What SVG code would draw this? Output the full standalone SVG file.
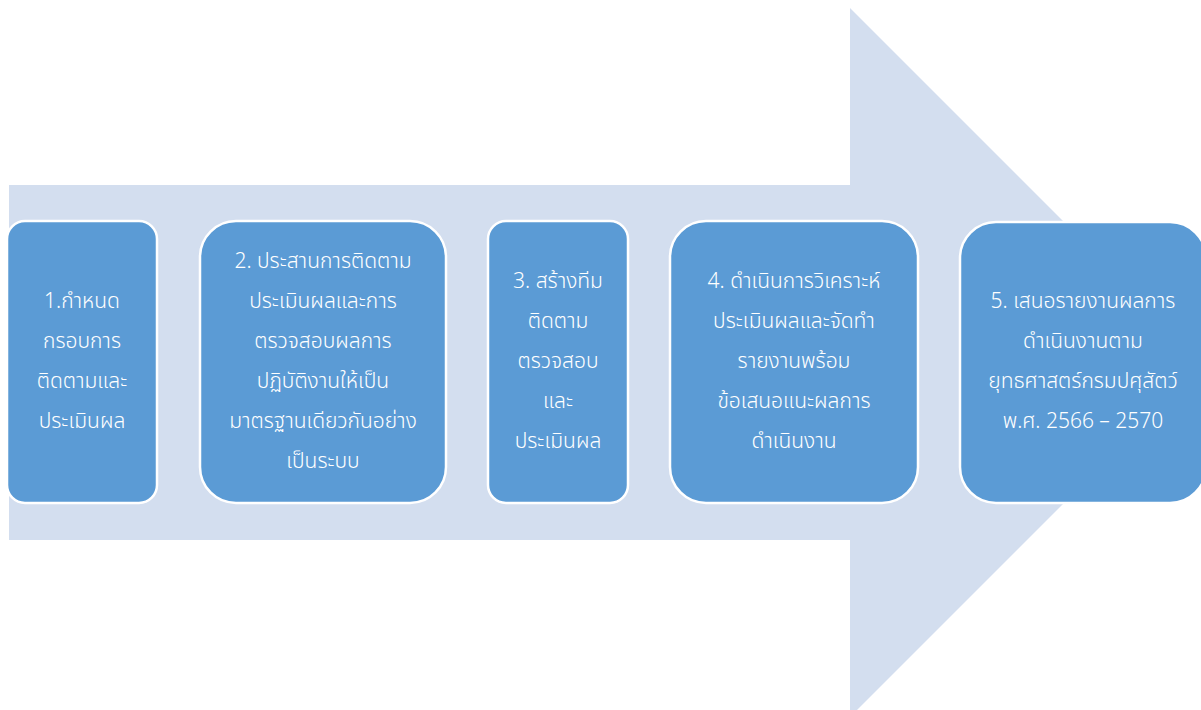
<svg xmlns="http://www.w3.org/2000/svg" width="1201" height="710" viewBox="0 0 1201 710">
<style>
.bg{fill:#ffffff}
.arrow{fill:#d3deef}
.box{fill:#5b9bd5;stroke:#ffffff;stroke-width:2.5}
.t{font-family:"Noto Sans Thai","Noto Sans","DejaVu Sans","Liberation Sans",sans-serif;font-size:21px;font-weight:300;fill:#ffffff;text-anchor:middle}
</style>
<rect class="bg" x="0" y="0" width="1201" height="710"/>
<g id="arrow">
<polygon class="arrow" points="9,185 850,185 850,8 1204.5,362.5 850,717 850,540 9,540"/>
</g>
<g id="connectors"></g>
<g id="node1">
<rect class="box" x="7" y="221" width="150" height="282" rx="18"/>
<text class="t" x="82" y="308">1.กำหนด</text>
<text class="t" x="82" y="348">กรอบการ</text>
<text class="t" x="82" y="388">ติดตามและ</text>
<text class="t" x="82" y="428">ประเมินผล</text>
</g>
<g id="node2">
<rect class="box" x="200" y="221" width="246" height="282" rx="36"/>
<text class="t" x="323" y="268">2. ประสานการติดตาม</text>
<text class="t" x="323" y="308">ประเมินผลและการ</text>
<text class="t" x="323" y="348">ตรวจสอบผลการ</text>
<text class="t" x="323" y="388">ปฏิบัติงานให้เป็น</text>
<text class="t" x="323" y="428">มาตรฐานเดียวกันอย่าง</text>
<text class="t" x="323" y="468">เป็นระบบ</text>
</g>
<g id="node3">
<rect class="box" x="488" y="221" width="140" height="282" rx="18"/>
<text class="t" x="558" y="288">3. สร้างทีม</text>
<text class="t" x="558" y="328">ติดตาม</text>
<text class="t" x="558" y="368">ตรวจสอบ</text>
<text class="t" x="558" y="408">และ</text>
<text class="t" x="558" y="448">ประเมินผล</text>
</g>
<g id="node4">
<rect class="box" x="670" y="221" width="248" height="282" rx="36"/>
<text class="t" x="794" y="288">4. ดำเนินการวิเคราะห์</text>
<text class="t" x="794" y="328">ประเมินผลและจัดทำ</text>
<text class="t" x="794" y="368">รายงานพร้อม</text>
<text class="t" x="794" y="408">ข้อเสนอแนะผลการ</text>
<text class="t" x="794" y="448">ดำเนินงาน</text>
</g>
<g id="node5">
<rect class="box" x="960" y="222" width="246" height="281" rx="36"/>
<text class="t" x="1083" y="308">5. เสนอรายงานผลการ</text>
<text class="t" x="1083" y="348">ดำเนินงานตาม</text>
<text class="t" x="1083" y="388">ยุทธศาสตร์กรมปศุสัตว์</text>
<text class="t" x="1083" y="428">พ.ศ. 2566 – 2570</text>
</g>
</svg>
